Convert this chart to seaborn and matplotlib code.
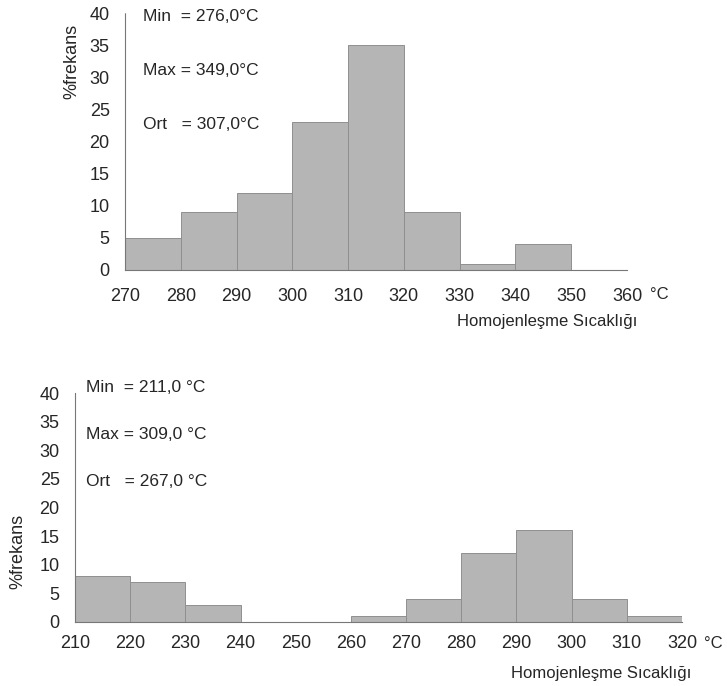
import matplotlib
matplotlib.use("Agg")
import matplotlib.pyplot as plt
import seaborn as sns
import numpy as np
from matplotlib import font_manager as fm

sns.set_style("white")
names = {f.name for f in fm.fontManager.ttflist}
fam = ["Liberation Sans Narrow", "Liberation Sans", "DejaVu Sans"]
fam = [f for f in fam if f in names] + ["DejaVu Sans"]
plt.rcParams["font.family"] = fam

# Top chart data
top_edges = [270, 280, 290, 300, 310, 320, 330, 340, 350, 360]
top_values = [5, 9, 12, 23, 35, 9, 1, 4, 0]
top_stats = ["Min  = 276,0\u00b0C", "Max = 349,0\u00b0C", "Ort   = 307,0\u00b0C"]

# Bottom chart data
bot_edges = [210, 220, 230, 240, 250, 260, 270, 280, 290, 300, 310, 320]
bot_values = [8, 7, 3, 0, 0, 1, 4, 12, 16, 4, 1]
bot_stats = ["Min  = 211,0 \u00b0C", "Max = 309,0 \u00b0C", "Ort   = 267,0 \u00b0C"]

xlabel = "Homojenleşme Sıcaklığı"
ylabel = "%frekans"
yticks = [0, 5, 10, 15, 20, 25, 30, 35, 40]

fig = plt.figure(figsize=(7.27, 6.86), dpi=100)
ax1 = fig.add_axes([125/727, 1-270/686, 502/727, 257/686])
ax2 = fig.add_axes([75/727, 1-622/686, 607/727, 229/686])

def draw(ax, edges, values, stats, stat_x, stat_y0, stat_dy, unit_x, unit_y, xpad):
    centers = [(a + b) / 2 for a, b in zip(edges[:-1], edges[1:])]
    sns.histplot(x=centers, weights=values, bins=edges, ax=ax,
                 color="#b5b5b5", alpha=1.0, edgecolor="#8f8f8f", linewidth=0.7)
    ax.set_xlim(edges[0], edges[-1])
    ax.set_ylim(0, 40)
    ax.set_yticks(yticks)
    ax.set_xticks(edges)
    ax.set_xticklabels([str(e) for e in edges], fontsize=13)
    ax.set_yticklabels([str(t) for t in yticks], fontsize=13)
    for s in ["top", "right"]:
        ax.spines[s].set_visible(False)
    ax.spines["left"].set_linestyle((0, (1, 1)))
    ax.spines["left"].set_color("#777777")
    ax.spines["left"].set_linewidth(0.8)
    ax.spines["bottom"].set_color("#777777")
    ax.spines["bottom"].set_linewidth(0.8)
    ax.tick_params(axis="both", length=3, width=0.6, color="#999999", pad=8)
    ax.tick_params(axis="x", pad=xpad)
    ax.set_xlabel("")
    ax.set_ylabel("")
    ax.grid(False)
    for i, s in enumerate(stats):
        ax.text(stat_x, stat_y0 - i * stat_dy, s, transform=ax.transAxes,
                fontsize=12.5, va="center", ha="left")
    # degree C after last tick label
    ax.text(unit_x, unit_y, "\u00b0C", transform=ax.transAxes,
            fontsize=12, va="center", ha="left")

draw(ax1, top_edges, top_values, top_stats, 0.035, 0.985, 0.21, 1.045, -0.095, 10)
ax1.text(1.02, -0.20, xlabel, transform=ax1.transAxes, fontsize=12, ha="right", va="center")
ax1.text(-0.105, 0.81, ylabel, transform=ax1.transAxes, fontsize=13, rotation=90, ha="center", va="center")

draw(ax2, bot_edges, bot_values, bot_stats, 0.018, 1.025, 0.205, 1.037, -0.095, 6)
ax2.text(1.015, -0.223, xlabel, transform=ax2.transAxes, fontsize=12, ha="right", va="center")
ax2.text(-0.094, 0.31, ylabel, transform=ax2.transAxes, fontsize=13, rotation=90, ha="center", va="center")

fig.savefig("out.png", dpi=100)
